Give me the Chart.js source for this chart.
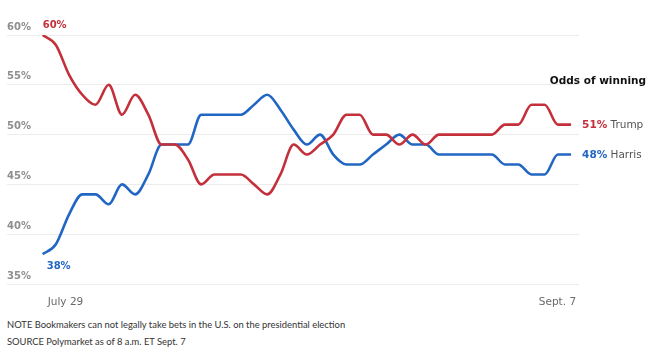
<!DOCTYPE html>
<html>
<head>
<meta charset="utf-8">
<script src="https://cdn.jsdelivr.net/npm/chart.js@4.4.1/dist/chart.umd.min.js"></script>
<style>
  html, body { margin: 0; padding: 0; background: #fff; }
  #wrap { position: relative; width: 660px; height: 354px; }
  #chart { position: absolute; left: 0; top: 0; }
  .note { position: absolute; left: 7px; font: 9.4px Lato, "Open Sans", sans-serif; color: #333; white-space: nowrap; line-height: 11px; }
</style>
</head>
<body>
<div id="wrap">
  <canvas id="chart" width="660" height="310"></canvas>
  <div class="note" style="top:319px">NOTE Bookmakers can not legally take bets in the U.S. on the presidential election</div>
  <div class="note" style="top:336px">SOURCE Polymarket as of 8 a.m. ET Sept. 7</div>
</div>
<script>
//daily dates, July 29 to Sept. 7
const dates = [
  "Jul 29", "Jul 30", "Jul 31", "Aug 1", "Aug 2", "Aug 3", "Aug 4", "Aug 5", "Aug 6", "Aug 7",
  "Aug 8", "Aug 9", "Aug 10", "Aug 11", "Aug 12", "Aug 13", "Aug 14", "Aug 15", "Aug 16", "Aug 17",
  "Aug 18", "Aug 19", "Aug 20", "Aug 21", "Aug 22", "Aug 23", "Aug 24", "Aug 25", "Aug 26", "Aug 27",
  "Aug 28", "Aug 29", "Aug 30", "Aug 31", "Sep 1", "Sep 2", "Sep 3", "Sep 4", "Sep 5", "Sep 6", "Sep 7"
];

//odds (percent)
const trump = [
  60, 59, 56, 54, 53, 55, 52, 54, 52, 49,
  49, 47.5, 45, 46, 46, 46, 45, 44, 46, 49,
  48, 49, 50, 52, 52, 50, 50, 49, 50, 49,
  50, 50, 50, 50, 50, 51, 51, 53, 53, 51, 51
];
const harris = [
  38, 39, 42, 44, 44, 43, 45, 44, 46, 49,
  49, 49, 52, 52, 52, 52, 53, 54, 52.5, 50.5,
  49, 50, 48, 47, 47, 48, 49, 50, 49, 49,
  48, 48, 48, 48, 48, 47, 47, 46, 46, 48, 48
];

const yTicks = [35, 40, 45, 50, 55, 60];
const xTickLabels = ["July 29", "Sept. 7"];
const seriesNames = ["Trump", "Harris"];

const RED = "#c3303b";
const BLUE = "#2266c3";

const toPoints = (arr) => arr.map((v, i) => ({ x: i, y: v }));

//labels at line starts, line ends and the little legend title
const labelPlugin = {
  id: "labels",
  afterDatasetsDraw(chart) {
    const ctx = chart.ctx;
    const xs = chart.scales.x;
    const ys = chart.scales.y;
    const last = dates.length - 1;
    ctx.save();
    ctx.textBaseline = "alphabetic";
    ctx.textAlign = "left";

    //start values
    ctx.font = "bold 10px 'DejaVu Sans'";
    ctx.fillStyle = RED;
    ctx.fillText(trump[0] + "%", xs.getPixelForValue(0), ys.getPixelForValue(trump[0]) - 7);
    ctx.fillStyle = BLUE;
    ctx.fillText(harris[0] + "%", xs.getPixelForValue(0) + 4, ys.getPixelForValue(harris[0]) + 15);

    //end values
    const ends = [[trump, RED, seriesNames[0]], [harris, BLUE, seriesNames[1]]];
    ends.forEach(([arr, color, name]) => {
      const x = xs.getPixelForValue(last) + 11;
      const y = ys.getPixelForValue(arr[last]) + 3;
      const pct = arr[last] + "%";
      ctx.font = "bold 10.5px 'DejaVu Sans'";
      ctx.fillStyle = color;
      ctx.fillText(pct, x, y);
      const w = ctx.measureText(pct).width;
      ctx.font = "10.5px 'DejaVu Sans'";
      ctx.fillStyle = "#555";
      ctx.fillText(" " + name, x + w, y);
    });

    ctx.font = "bold 10.5px 'DejaVu Sans'";
    ctx.fillStyle = "#111";
    ctx.textAlign = "right";
    ctx.fillText("Odds of winning", 646, 84);
    ctx.restore();
  }
};

const ctx = document.getElementById("chart").getContext("2d");
Chart.defaults.font.family = "'DejaVu Sans'";

new Chart(ctx, {
  type: "line",
  data: {
    datasets: [
      {
        label: seriesNames[0],
        data: toPoints(trump),
        borderColor: RED,
        borderWidth: 2.6,
        pointRadius: 0,
        cubicInterpolationMode: "monotone"
      },
      {
        label: seriesNames[1],
        data: toPoints(harris),
        borderColor: BLUE,
        borderWidth: 2.6,
        pointRadius: 0,
        cubicInterpolationMode: "monotone"
      }
    ]
  },
  options: {
    responsive: false,
    animation: false,
    events: [],
    layout: { padding: { left: 7, right: 81, top: 35, bottom: 0 } },
    plugins: {
      legend: { display: false },
      tooltip: { enabled: false }
    },
    scales: {
      x: {
        type: "linear",
        min: -2.7,
        max: 40.6,
        afterBuildTicks: (scale) => {
          scale.ticks = [{ value: 0 }, { value: dates.length - 1 }];
        },
        afterFit: (scale) => { scale.height = 26; },
        grid: { display: false },
        border: { display: false },
        ticks: {
          autoSkip: false,
          maxRotation: 0,
          align: "inner",
          labelOffset: 5,
          padding: 4,
          color: "#6a6a6a",
          font: { size: 10.5 },
          callback: (v, i) => xTickLabels[i]
        }
      },
      y: {
        min: 35,
        max: 60,
        afterBuildTicks: (scale) => {
          scale.ticks = yTicks.map((v) => ({ value: v }));
        },
        afterFit: (scale) => { scale.width = 0; },
        grid: { color: "#ececec", lineWidth: 1, drawTicks: false },
        border: { display: false },
        ticks: {
          mirror: true,
          padding: 0,
          labelOffset: -8,
          color: "#8e8e8e",
          font: { size: 10, weight: "bold" },
          callback: (v) => v + "%"
        }
      }
    }
  },
  plugins: [labelPlugin]
});
</script>
</body>
</html>
